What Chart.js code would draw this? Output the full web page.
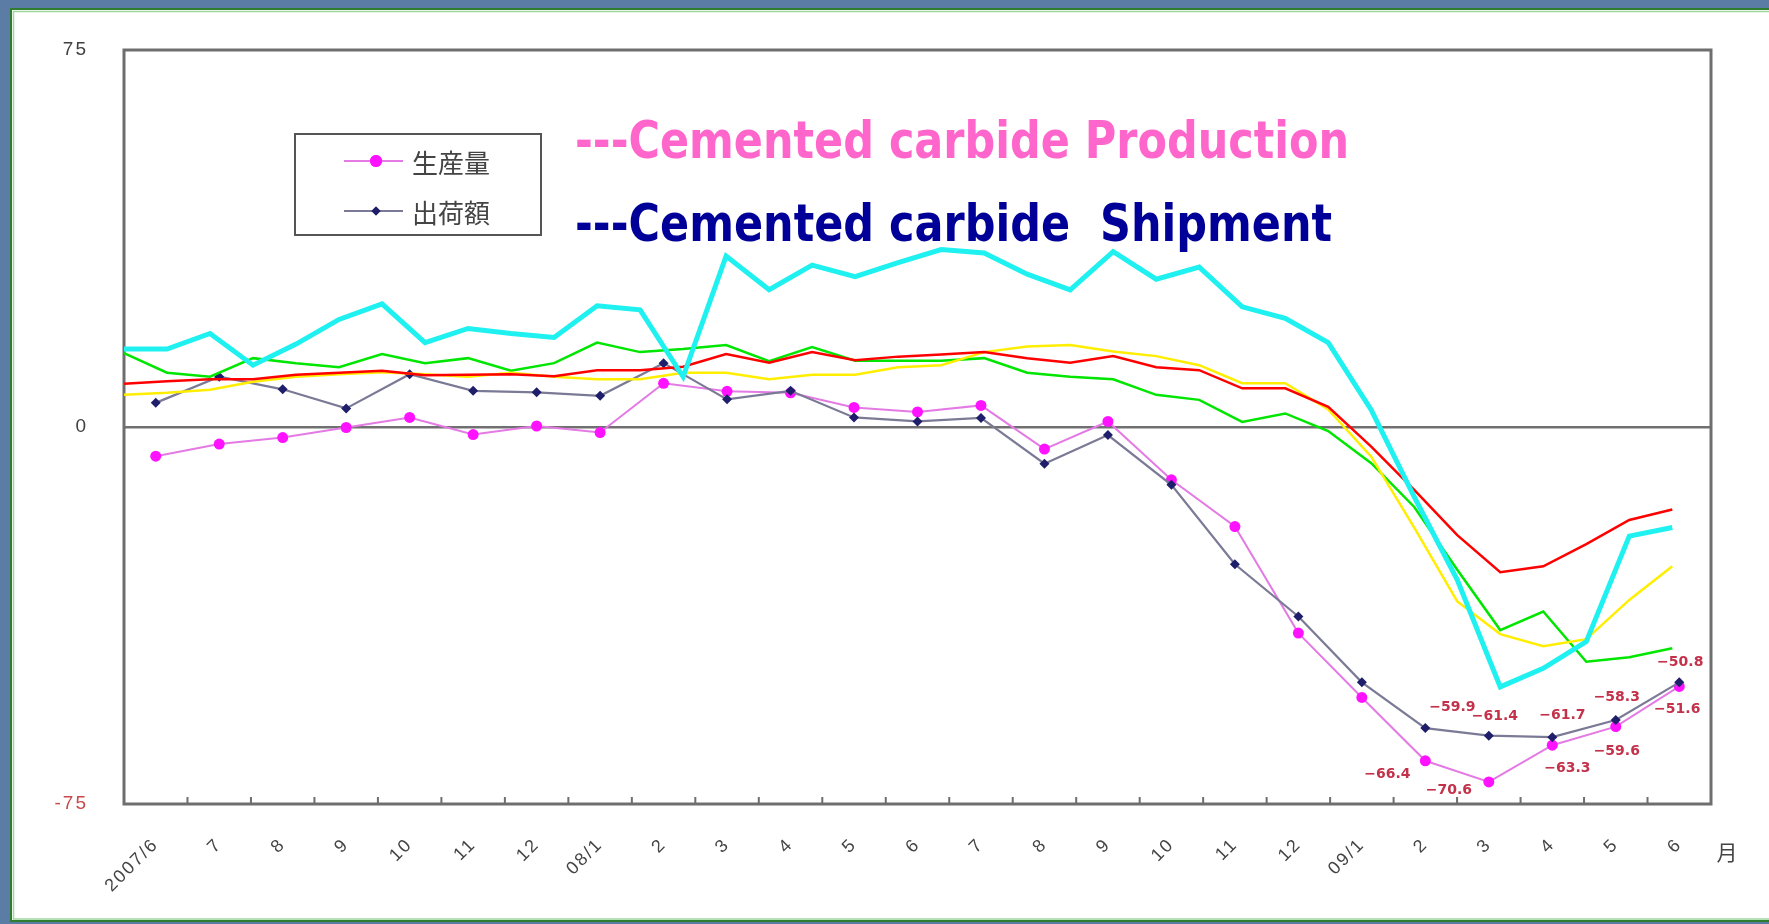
<!DOCTYPE html>
<html>
<head>
<meta charset="utf-8">
<script src="https://cdn.jsdelivr.net/npm/chart.js@4.4.0/dist/chart.umd.min.js"></script>
<style>
html,body{margin:0;padding:0;background:#5a7ca5;overflow:hidden}
canvas{display:block}
</style>
</head>
<body>
<canvas id="myCanvas" width="1769" height="924"></canvas>
<script>
let canvas = document.getElementById("myCanvas");

// eje principal: meses 2007/6 - 2009/6
const meses = ['2007/6','7','8','9','10','11','12','08/1','2','3','4','5','6','7','8','9','10','11','12','09/1','2','3','4','5','6'];
const produccion = [-5.8,-3.4,-2.1,-0.1,1.9,-1.5,0.2,-1.1,8.7,7.1,6.8,3.9,3.0,4.3,-4.4,1.1,-10.5,-19.8,-41.0,-53.8,-66.4,-70.6,-63.3,-59.6,-51.6];
const envios = [4.8,10.0,7.5,3.7,10.5,7.2,6.9,6.2,12.7,5.5,7.2,1.9,1.1,1.8,-7.3,-1.6,-11.5,-27.3,-37.7,-50.8,-59.9,-61.4,-61.7,-58.3,-50.8];
const yTicks = [-75, 0, 75];

// lineas superpuestas (37 meses, 2006/6 - 2009/6)
const cian = [15.5,15.5,18.6,12.3,16.5,21.4,24.5,16.8,19.6,18.6,17.8,24.1,23.3,10.0,34.0,27.3,32.2,29.9,32.7,35.3,34.6,30.4,27.3,34.9,29.4,31.8,23.9,21.6,16.8,3.4,-13.9,-30.4,-51.7,-48.0,-42.7,-21.7,-20.0];
const verde = [14.7,10.8,10.0,13.7,12.7,11.9,14.5,12.7,13.7,11.2,12.7,16.8,14.9,15.5,16.3,13.1,15.9,13.2,13.2,13.2,13.7,10.8,10.0,9.5,6.4,5.4,1.0,2.7,-0.8,-7.2,-15.9,-28.4,-40.4,-36.7,-46.7,-45.8,-44.0];
const rojo = [8.6,9.1,9.5,9.5,10.4,10.8,11.2,10.3,10.4,10.5,10.1,11.3,11.3,12.0,14.5,12.8,14.9,13.3,14.0,14.4,14.9,13.7,12.8,14.1,11.9,11.3,7.7,7.7,4.0,-3.9,-12.5,-21.5,-28.9,-27.7,-23.3,-18.5,-16.4];
const amarillo = [6.4,6.8,7.4,9.0,10.0,10.5,10.9,10.5,10.0,10.8,10.0,9.5,9.5,10.8,10.8,9.5,10.4,10.4,11.9,12.3,14.9,16.0,16.3,15.0,14.1,12.3,8.7,8.7,3.5,-5.9,-20.0,-34.7,-41.2,-43.6,-42.2,-34.4,-27.7];

// etiquetas de valores (ultimos 5 meses)
const idxEtiquetas = [20,21,22,23,24];
const despProd = [[-38,14],[-40,8],[15,23],[1,25],[-2,23]];
const despEnv = [[27,-21],[6,-19],[10,-22],[1,-23],[1,-20]];

const serie = (arr) => arr.map((v,i)=>({x:i, y:v}));

const fondo = {
  id:'fondo',
  beforeDraw(chart){
    const ctx = chart.ctx;
    ctx.save();
    ctx.fillStyle='#5a7ca5';
    ctx.fillRect(0,0,1769,924);
    ctx.fillStyle='#ffffff';
    ctx.fillRect(12,10,1757,911);
    ctx.strokeStyle='#2f7d2f';
    ctx.lineWidth=2;
    ctx.beginPath();
    ctx.moveTo(1769,9); ctx.lineTo(11,9); ctx.lineTo(11,921); ctx.lineTo(1769,921);
    ctx.stroke();
    ctx.strokeStyle='#9fd89f';
    ctx.lineWidth=1.5;
    ctx.beginPath();
    ctx.moveTo(1769,11.5); ctx.lineTo(13.5,11.5); ctx.lineTo(13.5,919); ctx.lineTo(1769,919);
    ctx.stroke();
    ctx.restore();
    ctx.letterSpacing='2px';
  }
};

const marco = {
  id:'marco',
  beforeDatasetsDraw(chart){
    const ctx = chart.ctx;
    const a = chart.chartArea;
    const x = chart.scales.x;
    ctx.save();
    ctx.strokeStyle='#6e6e6e';
    ctx.lineWidth=3;
    ctx.strokeRect(a.left,a.top,a.right-a.left,a.bottom-a.top);
    ctx.lineWidth=2;
    ctx.beginPath();
    for(let i=1;i<meses.length;i++){
      const px=(x.getPixelForTick(i-1)+x.getPixelForTick(i))/2;
      ctx.moveTo(px,a.bottom); ctx.lineTo(px,a.bottom-7);
    }
    ctx.stroke();
    ctx.restore();
  }
};

const etiquetas = {
  id:'etiquetas',
  afterDatasetsDraw(chart){
    const ctx=chart.ctx;
    ctx.save();
    ctx.letterSpacing='0px';
    ctx.font='bold 14px "DejaVu Sans"';
    ctx.fillStyle='#c3324a';
    ctx.textAlign='center';
    ctx.textBaseline='middle';
    [[0,despProd],[1,despEnv]].forEach(([d,desp])=>{
      const meta=chart.getDatasetMeta(d);
      idxEtiquetas.forEach((i,k)=>{
        const p=meta.data[i];
        const v=chart.data.datasets[d].data[i];
        ctx.fillText(v.toFixed(1).replace('-','\u2212'), p.x+desp[k][0], p.y+desp[k][1]);
      });
    });
    ctx.restore();
  }
};

const textoAncho = (ctx, txt, x, y, w, font, color) => {
  ctx.font=font;
  const m=ctx.measureText(txt).width;
  ctx.save();
  ctx.translate(x,y);
  ctx.scale(w/m,1);
  ctx.fillStyle=color;
  ctx.textAlign='left';
  ctx.textBaseline='alphabetic';
  ctx.fillText(txt,0,0);
  ctx.restore();
};

const leyenda = {
  id:'leyenda',
  afterDraw(chart){
    const ctx=chart.ctx;
    ctx.save();
    ctx.letterSpacing='0px';
    ctx.fillStyle='#ffffff';
    ctx.fillRect(295,134,246,101);
    ctx.strokeStyle='#555';
    ctx.lineWidth=2;
    ctx.strokeRect(295,134,246,101);
    const filas=[161,211];
    [0,1].forEach((d,k)=>{
      const ds=chart.data.datasets[d];
      const y=filas[k];
      ctx.strokeStyle=ds.borderColor;
      ctx.lineWidth=2;
      ctx.beginPath(); ctx.moveTo(344,y); ctx.lineTo(403,y); ctx.stroke();
      ctx.fillStyle=ds.pointBackgroundColor;
      Chart.helpers.drawPoint(ctx,{pointStyle:ds.pointStyle,radius:k===0?6:4.5,borderWidth:0},376,y);
      ctx.fill();
      ctx.fillStyle='#444';
      ctx.font='26px "Noto Sans CJK JP"';
      ctx.textAlign='left';
      ctx.textBaseline='middle';
      ctx.fillText(ds.label,412,y+2);
    });
    textoAncho(ctx,'---Cemented carbide Production',575,158,774,'bold 52px "DejaVu Sans"','#ff66cc');
    textoAncho(ctx,'---Cemented carbide  Shipment',575,241,757,'bold 52px "DejaVu Sans"','#000099');
    ctx.fillStyle='#444';
    ctx.font='21px "Noto Sans CJK JP"';
    ctx.textAlign='center';
    ctx.textBaseline='middle';
    ctx.fillText('月',1727,852);
    ctx.restore();
  }
};

window.chart = new Chart(canvas, {
  type:'line',
  data:{
    labels: meses,
    datasets:[
      {label:'生産量', data:produccion, xAxisID:'x', borderColor:'#e47ae4', borderWidth:2, pointStyle:'circle', pointRadius:5.5, pointBackgroundColor:'#ff12ff', pointBorderColor:'#ff12ff', pointBorderWidth:0, tension:0, order:3},
      {label:'出荷額', data:envios, xAxisID:'x', borderColor:'#7a7a96', borderWidth:2.2, pointStyle:'rectRot', pointRadius:5, pointBackgroundColor:'#1e1e6a', pointBorderColor:'#1e1e6a', pointBorderWidth:0, tension:0, order:2},
      {label:'rojo', data:serie(rojo), xAxisID:'x2', borderColor:'#ff0000', borderWidth:2.5, pointRadius:0, tension:0, order:1},
      {label:'amarillo', data:serie(amarillo), xAxisID:'x2', borderColor:'#ffee00', borderWidth:2.5, pointRadius:0, tension:0, order:1},
      {label:'verde', data:serie(verde), xAxisID:'x2', borderColor:'#00e600', borderWidth:2.5, pointRadius:0, tension:0, order:1},
      {label:'cian', data:serie(cian), xAxisID:'x2', borderColor:'#1ff0f0', borderWidth:5, pointRadius:0, tension:0, order:0}
    ]
  },
  options:{
    responsive:false,
    animation:false,
    devicePixelRatio:1,
    layout:{padding:{left:0,right:58,top:50,bottom:0}},
    plugins:{legend:{display:false},tooltip:{enabled:false}},
    scales:{
      x:{
        type:'category',
        offset:true,
        grid:{display:false},
        border:{display:false},
        ticks:{autoSkip:false,minRotation:45,maxRotation:45,color:'#444',font:{size:18,family:'"Liberation Sans"'},padding:22},
        afterFit:(s)=>{s.height=120;}
      },
      x2:{type:'linear',display:false,min:0,max:36.9},
      y:{
        min:-75,max:75,
        afterBuildTicks:(s)=>{s.ticks=yTicks.map(v=>({value:v}));},
        grid:{color:(c)=>c.tick && c.tick.value===0?'#707070':'rgba(0,0,0,0)',lineWidth:2.5,drawTicks:false},
        border:{display:false},
        ticks:{padding:36,color:(c)=>c.tick.value<0?'#c84a4a':'#404040',font:{size:19,family:'"Liberation Sans"'}},
        afterFit:(s)=>{s.width=124;}
      }
    }
  },
  plugins:[fondo,marco,etiquetas,leyenda]
});
</script>
</body>
</html>
